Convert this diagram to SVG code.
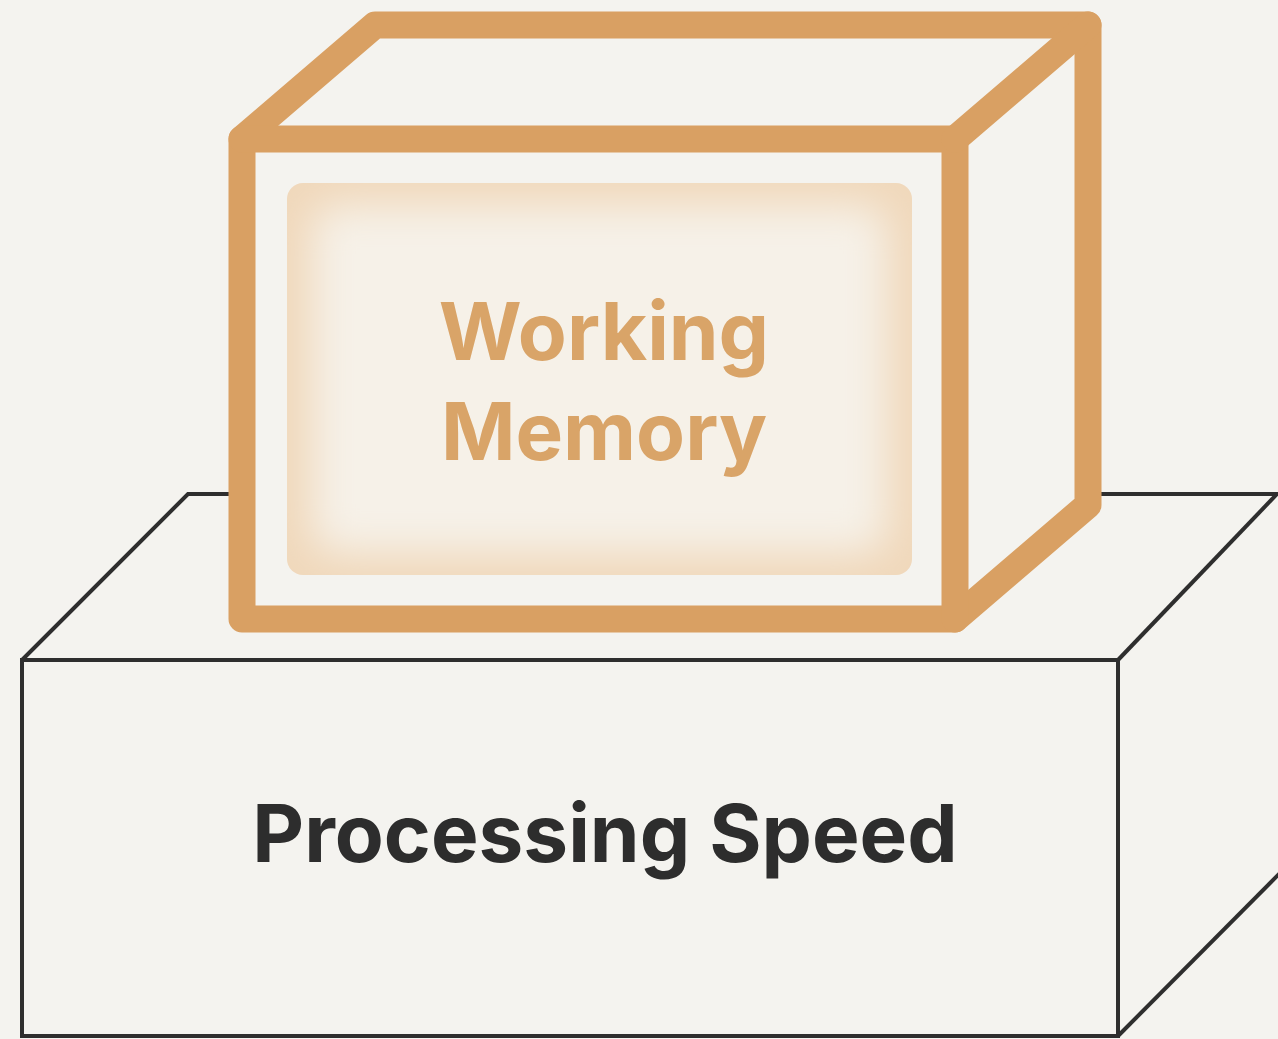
<svg xmlns="http://www.w3.org/2000/svg" width="1278" height="1039" viewBox="0 0 1278 1039">
  <style>
    .dark { fill: none; stroke: #2e2e2e; stroke-width: 4; stroke-linejoin: miter; }
    .orange { fill: none; stroke: #d9a063; stroke-width: 27; stroke-linejoin: round; stroke-linecap: round; }
    .label { font-family: Inter, "Liberation Sans", sans-serif; font-weight: 700; text-anchor: middle; }
  </style>
  <defs>
    <clipPath id="innerClip">
      <rect x="287" y="183" width="625" height="392" rx="16"/>
    </clipPath>
    <filter id="soft" x="-20%" y="-20%" width="140%" height="140%">
      <feGaussianBlur stdDeviation="20"/>
    </filter>
  </defs>
  <rect width="1278" height="1039" fill="#f4f3ef"/>

  <g id="processing-speed">
    <polygon points="22,660 188,494 1290,494 1290,870 1118,1036 22,1036" fill="#f4f3ef"/>
    <path class="dark" d="M22,660 L188,494 L1290,494"/>
    <path class="dark" d="M1277,494 L1118,660"/>
    <path class="dark" d="M22,660 L1118,660 L1118,1036 L22,1036 Z"/>
    <path class="dark" d="M1118,1036 L1282,871"/>
    <text class="label" x="605" y="862" font-size="80" fill="#2d2d2d">Processing Speed</text>
  </g>

  <g id="working-memory">
    <polygon points="242,139 375,25 1088,25 1088,505 955,619 242,619" fill="#f4f3ef"/>
    <g clip-path="url(#innerClip)">
      <rect x="287" y="183" width="625" height="392" fill="#f0d8bb"/>
      <rect x="312" y="205" width="575" height="348" rx="24" fill="#f6f1e8" filter="url(#soft)"/>
    </g>
    <path class="orange" d="M242,139 L375,25 L1088,25 L1088,505 L955,619 L242,619 Z"/>
    <path class="orange" d="M242,139 L955,139 L955,619"/>
    <path class="orange" d="M955,139 L1088,25"/>
    <text class="label" x="604" y="360" font-size="80" fill="#d9a468">Working</text>
    <text class="label" x="604" y="460" font-size="80" fill="#d9a468">Memory</text>
  </g>
</svg>
